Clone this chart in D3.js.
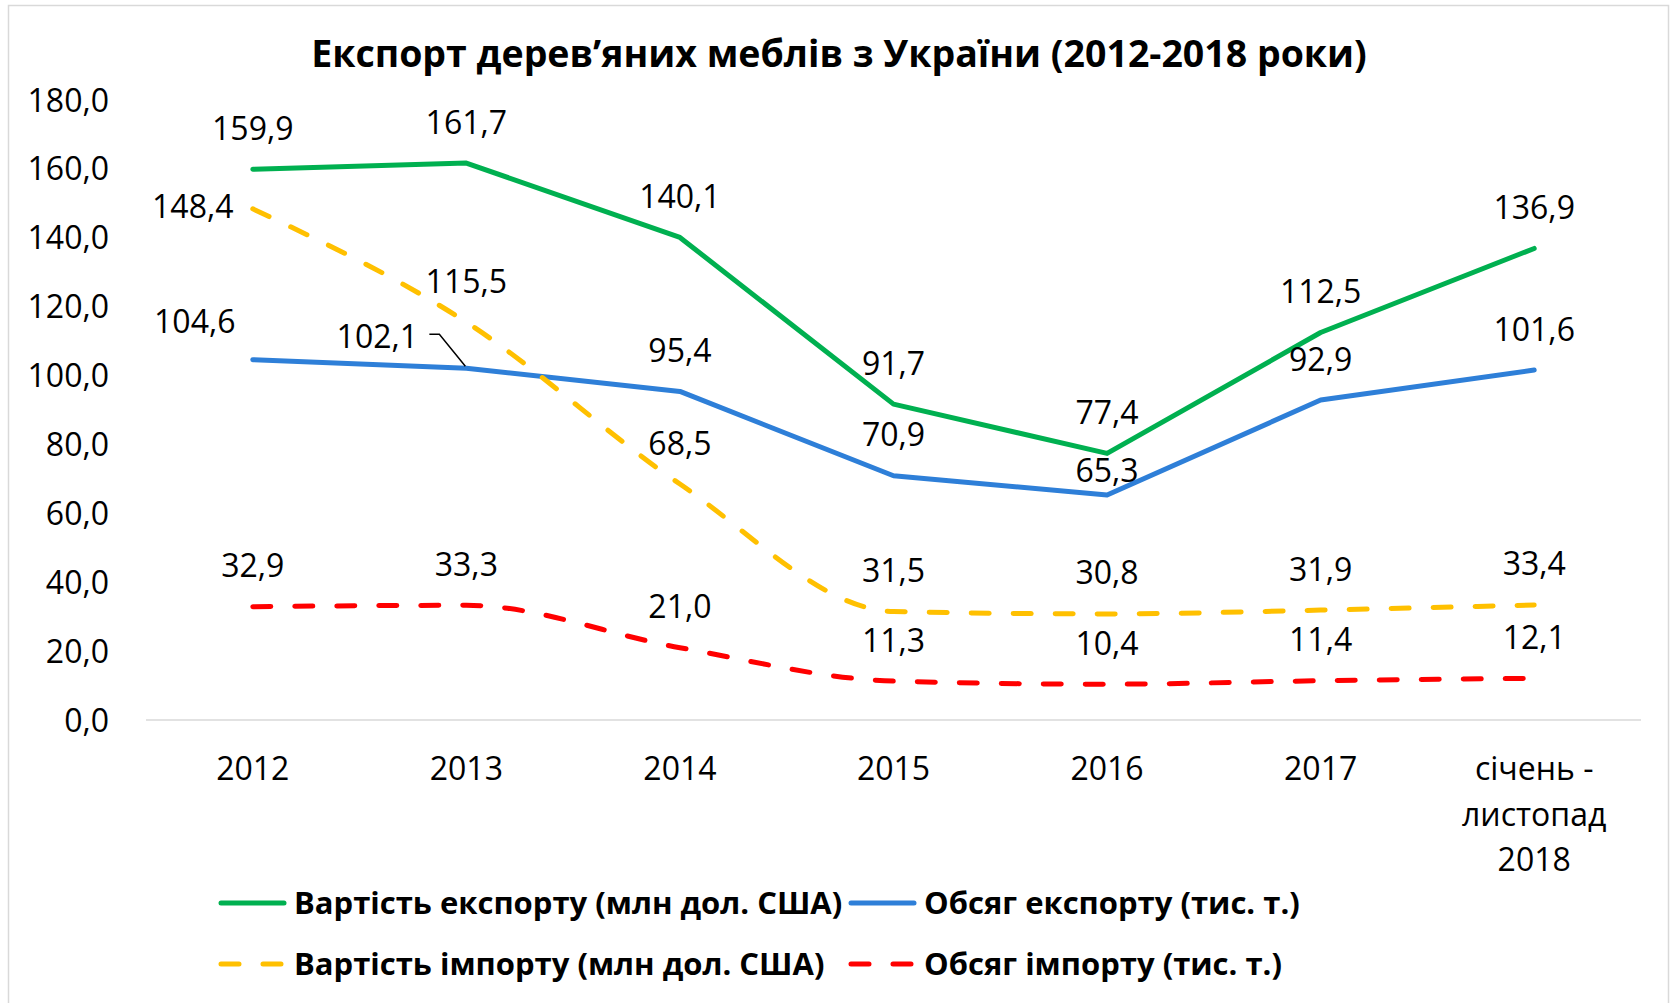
<!DOCTYPE html>
<html>
<head>
<meta charset="utf-8">
<script src="https://cdn.jsdelivr.net/npm/d3@7"></script>
<style>
  body { margin: 0; background: #fff; }
  svg text { font-family: "Open Sans", "Noto Sans", sans-serif; fill: #000; }
</style>
</head>
<body>
<div id="chart"></div>
<script>

// data
const categories = ["2012", "2013", "2014", "2015", "2016", "2017", "січень - листопад 2018"];
const categoryLines = [["2012"], ["2013"], ["2014"], ["2015"], ["2016"], ["2017"], ["січень -", "листопад", "2018"]];
const exportValue = [159.9, 161.7, 140.1, 91.7, 77.4, 112.5, 136.9];
const exportVolume = [104.6, 102.1, 95.4, 70.9, 65.3, 92.9, 101.6];
const importValue = [148.4, 115.5, 68.5, 31.5, 30.8, 31.9, 33.4];
const importVolume = [32.9, 33.3, 21.0, 11.3, 10.4, 11.4, 12.1];
const yTicks = [0, 20, 40, 60, 80, 100, 120, 140, 160, 180];
const seriesNames = [
  "Вартість експорту (млн дол. США)",
  "Обсяг експорту (тис. т.)",
  "Вартість імпорту (млн дол. США)",
  "Обсяг імпорту (тис. т.)"
];
const title = "Експорт дерев’яних меблів з України (2012-2018 роки)";

const width = 1673;
const height = 1003;

const series = [
  { name: seriesNames[0], values: exportValue, color: "#00B050", dash: null, smooth: false },
  { name: seriesNames[1], values: exportVolume, color: "#2E7FD8", dash: null, smooth: false },
  { name: seriesNames[2], values: importValue, color: "#FFC000", dash: "18,24", smooth: true },
  { name: seriesNames[3], values: importVolume, color: "#FF0000", dash: "18,24", smooth: true }
];

// hand-placed labels in the original (dx/dy of label centre from point)
const labelMoves = {
  "1-0": { dx: -58, dy: -38 },
  "2-0": { dx: -60, dy: -2 },
  "1-1": { dx: -89, dy: -32, leader: true },
  "1-4": { dx: 0, dy: -25 }
};

const ukr = d3.formatLocale({ decimal: ",", thousands: " ", grouping: [3], currency: ["", ""] });
const fmt = ukr.format(".1f");

const svg = d3.select("#chart")
  .append("svg")
  .attr("width", width)
  .attr("height", height);

svg.append("rect")
  .attr("x", 8.5).attr("y", 5.5)
  .attr("width", 1660).attr("height", 1020)
  .attr("fill", "#fff")
  .attr("stroke", "#D9D9D9")
  .attr("stroke-width", 1.5);

const x = d3.scaleBand()
  .domain(categories)
  .range([146, 1641]);

const y = d3.scaleLinear()
  .domain([0, 180])
  .range([720, 100]);

const cx = d => x(d) + x.bandwidth() / 2;

svg.append("text")
  .attr("x", 839)
  .attr("y", 67)
  .attr("text-anchor", "middle")
  .style("font-size", "37.5px")
  .style("font-weight", "bold")
  .text(title);

// y axis labels (no axis line, no gridlines except zero)
svg.append("g")
  .selectAll("text")
  .data(yTicks)
  .join("text")
  .attr("x", 109)
  .attr("y", d => y(d))
  .attr("dy", "0.36em")
  .attr("text-anchor", "end")
  .style("font-size", "32px")
  .text(d => fmt(d));

svg.append("line")
  .attr("x1", x.range()[0]).attr("x2", x.range()[1])
  .attr("y1", y(0)).attr("y2", y(0))
  .attr("stroke", "#D9D9D9")
  .attr("stroke-width", 1.5);

// category labels
const cat = svg.append("g")
  .selectAll("text")
  .data(categories)
  .join("text")
  .attr("text-anchor", "middle")
  .style("font-size", "32px");

cat.each(function (d, i) {
  d3.select(this).selectAll("tspan")
    .data(categoryLines[i])
    .join("tspan")
    .attr("x", cx(d))
    .attr("y", (t, j) => 780 + j * 45.5)
    .text(t => t);
});

// lines
series.forEach(s => {
  const line = d3.line()
    .x((v, i) => cx(categories[i]))
    .y(v => y(v))
    .curve(s.smooth ? d3.curveMonotoneX : d3.curveLinear);

  svg.append("path")
    .datum(s.values)
    .attr("fill", "none")
    .attr("stroke", s.color)
    .attr("stroke-width", 5)
    .attr("stroke-linecap", "round")
    .attr("stroke-linejoin", "round")
    .attr("stroke-dasharray", s.dash)
    .attr("d", line);
});

// data labels
series.forEach((s, si) => {
  const g = svg.append("g");
  s.values.forEach((v, i) => {
    const px = cx(categories[i]);
    const py = y(v);
    const m = labelMoves[si + "-" + i] || { dx: 0, dy: -41 };
    g.append("text")
      .attr("x", px + m.dx)
      .attr("y", py + m.dy)
      .attr("dy", "0.36em")
      .attr("text-anchor", "middle")
      .style("font-size", "32px")
      .text(fmt(v));
    if (m.leader) {
      g.append("path")
        .attr("fill", "none")
        .attr("stroke", "#000")
        .attr("stroke-width", 1.5)
        .attr("d", `M${px - 37},${py - 34}H${px - 27}L${px - 1},${py - 2}`);
    }
  });
});

// legend, two rows of two
const legendPos = [
  { x: 221, y: 903 }, { x: 851, y: 903 },
  { x: 221, y: 964 }, { x: 851, y: 964 }
];

const legend = svg.append("g")
  .selectAll("g")
  .data(series)
  .join("g")
  .attr("transform", (d, i) => `translate(${legendPos[i].x},${legendPos[i].y})`);

legend.append("line")
  .attr("x1", 0).attr("x2", d => d.dash ? 61 : 63)
  .attr("stroke", d => d.color)
  .attr("stroke-width", 5)
  .attr("stroke-linecap", "round")
  .attr("stroke-dasharray", d => d.dash);

legend.append("text")
  .attr("x", 73)
  .attr("dy", "0.36em")
  .style("font-size", "31px")
  .style("font-weight", "bold")
  .text(d => d.name);

</script>
</body>
</html>
